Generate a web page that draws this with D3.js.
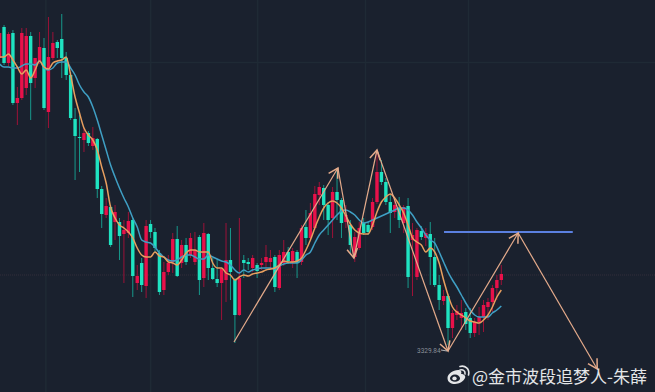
<!DOCTYPE html>
<html>
<head>
<meta charset="utf-8">
<script src="https://cdn.jsdelivr.net/npm/d3@7"></script>
<style>
    html, body { margin: 0; padding: 0; background: #1a212e; overflow: hidden; }
    svg { display: block; }
</style>
</head>
<body>
<div id="chart"></div>
<script>

var opens = [3622,3653,3617,3647,3577,3582,3592,3644,3602,3618,3632,3568,3622,3638,3641,3622,3605,3561,3543,3540,3547,3534,3541,3491,3465,3473,3458,3458,3446,3447,3460,3397,3417,3394,3456,3448,3427,3390,3408,3418,3441,3417,3435,3425,3418,3443,3402,3446,3412,3401,3397,3400,3420,3400,3365,3420,3418,3412,3415,3415,3418,3418,3423,3392,3417,3428,3418,3428,3418,3453,3442,3452,3485,3492,3475,3462,3488,3480,3458,3455,3423,3432,3457,3455,3453,3478,3508,3498,3478,3468,3472,3457,3474,3440,3403,3449,3442,3446,3423,3395,3379,3384,3352,3365,3362,3368,3362,3347,3358,3363,3373,3378,3392,3400]
var closes = [3647,3617,3646,3577,3582,3647,3644,3597,3622,3633,3572,3623,3637,3632,3622,3605,3562,3544,3542,3547,3537,3542,3491,3466,3474,3435,3468,3444,3450,3459,3404,3404,3395,3454,3448,3432,3388,3408,3417,3441,3404,3435,3418,3442,3430,3400,3447,3412,3401,3397,3411,3420,3408,3365,3402,3417,3416,3422,3409,3417,3423,3422,3393,3425,3428,3419,3429,3417,3452,3442,3467,3486,3493,3475,3460,3488,3480,3457,3465,3435,3443,3452,3447,3448,3478,3508,3498,3478,3467,3475,3460,3473,3403,3445,3450,3443,3447,3423,3395,3380,3384,3352,3367,3369,3367,3356,3347,3358,3363,3375,3378,3392,3400,3406]
var highs = [3647,3655,3648,3650,3593,3652,3652,3648,3622,3648,3642,3663,3648,3640,3666,3628,3608,3572,3565,3552,3549,3553,3542,3494,3482,3475,3475,3462,3460,3468,3462,3415,3422,3460,3460,3452,3430,3418,3425,3447,3454,3440,3442,3447,3448,3445,3457,3447,3422,3421,3412,3457,3452,3402,3462,3425,3422,3425,3417,3422,3435,3430,3425,3430,3440,3433,3432,3430,3455,3470,3477,3494,3498,3495,3478,3493,3512,3482,3475,3460,3448,3458,3462,3458,3482,3530,3520,3502,3485,3480,3483,3475,3482,3457,3452,3454,3452,3458,3442,3405,3390,3386,3370,3375,3380,3372,3372,3362,3373,3380,3382,3395,3405,3415]
var lows = [3620,3615,3614,3575,3555,3580,3585,3560,3592,3616,3570,3552,3620,3622,3602,3600,3560,3500,3508,3528,3534,3530,3482,3452,3462,3433,3440,3420,3397,3442,3383,3390,3388,3382,3442,3428,3385,3385,3405,3407,3403,3412,3415,3422,3415,3385,3393,3400,3400,3393,3360,3378,3380,3337,3364,3402,3410,3408,3402,3410,3412,3410,3388,3390,3414,3416,3412,3402,3415,3435,3440,3450,3475,3460,3445,3442,3460,3442,3452,3427,3418,3430,3445,3445,3450,3476,3495,3475,3447,3462,3452,3447,3392,3384,3400,3440,3434,3395,3393,3370,3375,3335,3342,3360,3350,3350,3342,3343,3345,3348,3360,3368,3380,3395]

var maFast = [3623,3623,3626,3620,3613,3606,3610,3602,3610,3619,3613,3611,3617,3619,3620,3623,3605,3583,3567,3552,3545,3540,3530,3513,3497,3473,3462,3455,3452,3448,3442,3432,3425,3423,3423,3428,3424,3423,3418,3417,3415,3420,3427,3430,3430,3428,3428,3428,3417,3412,3412,3407,3405,3400,3403,3405,3404,3406,3407,3408,3410,3411,3412,3415,3419,3418,3418,3419,3422,3430,3440,3452,3463,3472,3477,3479,3477,3472,3464,3456,3450,3447,3446,3446,3455,3468,3478,3483,3486,3482,3475,3467,3455,3442,3438,3435,3428,3432,3428,3417,3400,3385,3373,3368,3365,3362,3359,3358,3357,3360,3365,3373,3383,3390]
var maSlow = [3616,3613,3613,3612,3612,3614,3616,3616,3615,3619,3612,3610,3612,3617,3618,3618,3612,3605,3595,3588,3583,3573,3560,3545,3530,3515,3503,3492,3482,3473,3462,3453,3440,3438,3437,3433,3427,3423,3420,3419,3420,3423,3425,3425,3423,3421,3421,3425,3423,3421,3419,3418,3415,3410,3407,3410,3408,3410,3411,3412,3412,3412,3411,3414,3416,3417,3417,3417,3420,3425,3428,3437,3445,3450,3455,3460,3465,3469,3470,3468,3465,3460,3457,3458,3460,3462,3464,3466,3468,3470,3472,3472,3470,3465,3458,3452,3445,3440,3437,3428,3418,3408,3400,3393,3385,3377,3370,3365,3363,3363,3363,3367,3370,3374]

// hand drawn zigzag on top of the candles
var pivotIndex = [52.8,76.2,79.8,85,101,116.8,134.6]
var pivotPrice = [3338,3512,3422,3530,3329,3447,3311]

var levelIndex = [100.1,129.1]
var levelPrice = 3448

var gridIndex = [10.3,33.9,58,82.3,105.5]
var gridPrice = [3618]
var lastPrice = 3405

var lowLabel = "3329.84"
var credit = "@金市波段追梦人-朱薛"

var width = 655
var height = 392

var x = d3.scaleLinear().domain([0, opens.length - 1]).range([-0.4, 501.3])
var y = d3.scaleLinear().domain([3288, 3680]).range([height, 0])

var svg = d3.select("#chart").append("svg")
    .attr("width", width)
    .attr("height", height)

svg.append("rect")
    .attr("width", width)
    .attr("height", height)
    .attr("fill", "#1a212e")

svg.append("defs").append("marker")
    .attr("id", "arrow")
    .attr("viewBox", "-10 -6 12 12")
    .attr("refX", 0)
    .attr("refY", 0)
    .attr("markerUnits", "userSpaceOnUse")
    .attr("markerWidth", 14)
    .attr("markerHeight", 14)
    .attr("orient", "auto")
    .append("path")
    .attr("d", "M-8,-4.5L0,0L-8,4.5")
    .attr("fill", "none")
    .attr("stroke", "#e5ab8b")
    .attr("stroke-width", 1.3)

/*
Faint grid comes from the axes, labels are not shown in the picture
*/

var gridX = svg.append("g")
    .attr("transform", "translate(0," + height + ")")
    .call(d3.axisBottom(x).tickValues(gridIndex).tickSize(-height).tickFormat(""))

var gridY = svg.append("g")
    .call(d3.axisLeft(y).tickValues(gridPrice).tickSize(-width).tickFormat(""))

svg.selectAll(".domain").remove()

svg.selectAll(".tick line")
    .attr("stroke", "#1f2a35")
    .attr("stroke-width", 1.5)

svg.append("line")
    .attr("x1", 0)
    .attr("x2", width)
    .attr("y1", y(lastPrice))
    .attr("y2", y(lastPrice))
    .attr("stroke", "#332e3a")
    .attr("stroke-dasharray", "1,1")

var candles = svg.append("g")
    .selectAll("g")
    .data(opens.map((d, i) => i))
    .join("g")
    .attr("fill", i => closes[i] >= opens[i] ? "#e8114a" : "#1fe3c1")
    .attr("stroke", i => closes[i] >= opens[i] ? "#9c1238" : "#17998b")

candles.append("line")
    .attr("x1", i => x(i))
    .attr("x2", i => x(i))
    .attr("y1", i => y(highs[i]))
    .attr("y2", i => y(lows[i]))
    .attr("stroke-width", 1)

candles.append("rect")
    .attr("x", i => x(i) - 1.7)
    .attr("width", 3.4)
    .attr("y", i => y(Math.max(opens[i], closes[i])))
    .attr("height", i => Math.max(1, Math.abs(opens[i] - closes[i]) * (y(0) - y(1))))
    .attr("stroke", "none")

var line = d3.line()
    .x((d, i) => x(i))
    .y(d => y(d))
    .curve(d3.curveMonotoneX)

svg.append("path")
    .datum(maSlow)
    .attr("d", line)
    .attr("fill", "none")
    .attr("stroke", "#3f9fc4")
    .attr("stroke-width", 1.5)

svg.append("path")
    .datum(maFast)
    .attr("d", line)
    .attr("fill", "none")
    .attr("stroke", "#e89f5f")
    .attr("stroke-width", 1.5)

svg.append("line")
    .attr("x1", x(levelIndex[0]))
    .attr("x2", x(levelIndex[1]))
    .attr("y1", y(levelPrice))
    .attr("y2", y(levelPrice))
    .attr("stroke", "#5b80e0")
    .attr("stroke-width", 1.8)

svg.append("g")
    .selectAll("line")
    .data(d3.pairs(pivotIndex.map((d, i) => i)))
    .join("line")
    .attr("x1", d => x(pivotIndex[d[0]]))
    .attr("y1", d => y(pivotPrice[d[0]]))
    .attr("x2", d => x(pivotIndex[d[1]]))
    .attr("y2", d => y(pivotPrice[d[1]]))
    .attr("stroke", "#e5ab8b")
    .attr("stroke-width", 1.2)
    .attr("marker-end", "url(#arrow)")

svg.append("text")
    .attr("x", x(pivotIndex[4]) - 31)
    .attr("y", y(pivotPrice[4]) + 2)
    .attr("font-family", "Roboto, sans-serif")
    .attr("font-size", 6.5)
    .attr("fill", "#8b9098")
    .text(lowLabel)

svg.append("line")
    .attr("x1", x(pivotIndex[4]) - 7)
    .attr("x2", x(pivotIndex[4]) - 1)
    .attr("y1", y(pivotPrice[4]) - 1)
    .attr("y2", y(pivotPrice[4]))
    .attr("stroke", "#d9d9d9")
    .attr("stroke-width", 0.8)

/*
Weibo mark next to the credit
*/

var logo = svg.append("g")
    .attr("transform", "translate(447,365)")
    .attr("fill", "none")
    .attr("stroke", "#e4e6e8")

logo.append("path")
    .attr("d", "M0.5,13C0.5,9 6,5 11,5C14,5 15,7 14,9C17,9 19,11 18,13C17,16 12,19 8,19C4,19 0.5,17 0.5,13Z")
    .attr("fill", "#e4e6e8")
    .attr("stroke", "none")

logo.append("ellipse")
    .attr("cx", 8)
    .attr("cy", 13.2)
    .attr("rx", 5)
    .attr("ry", 3.6)
    .attr("fill", "#1a212e")
    .attr("stroke", "none")

logo.append("ellipse")
    .attr("cx", 7.5)
    .attr("cy", 13.4)
    .attr("rx", 2.2)
    .attr("ry", 1.9)
    .attr("fill", "#e4e6e8")
    .attr("stroke", "none")

logo.append("path")
    .attr("d", "M13,1.5C18,0 23,4 21.5,10M13,5C16,4 18.5,6 18,9")
    .attr("stroke-width", 1.6)
    .attr("stroke-linecap", "round")

svg.append("text")
    .attr("x", 472)
    .attr("y", 383)
    .attr("font-family", "'Noto Sans CJK SC', sans-serif")
    .attr("font-size", 17)
    .attr("fill", "#e4e6e8")
    .text(credit)

</script>
</body>
</html>
